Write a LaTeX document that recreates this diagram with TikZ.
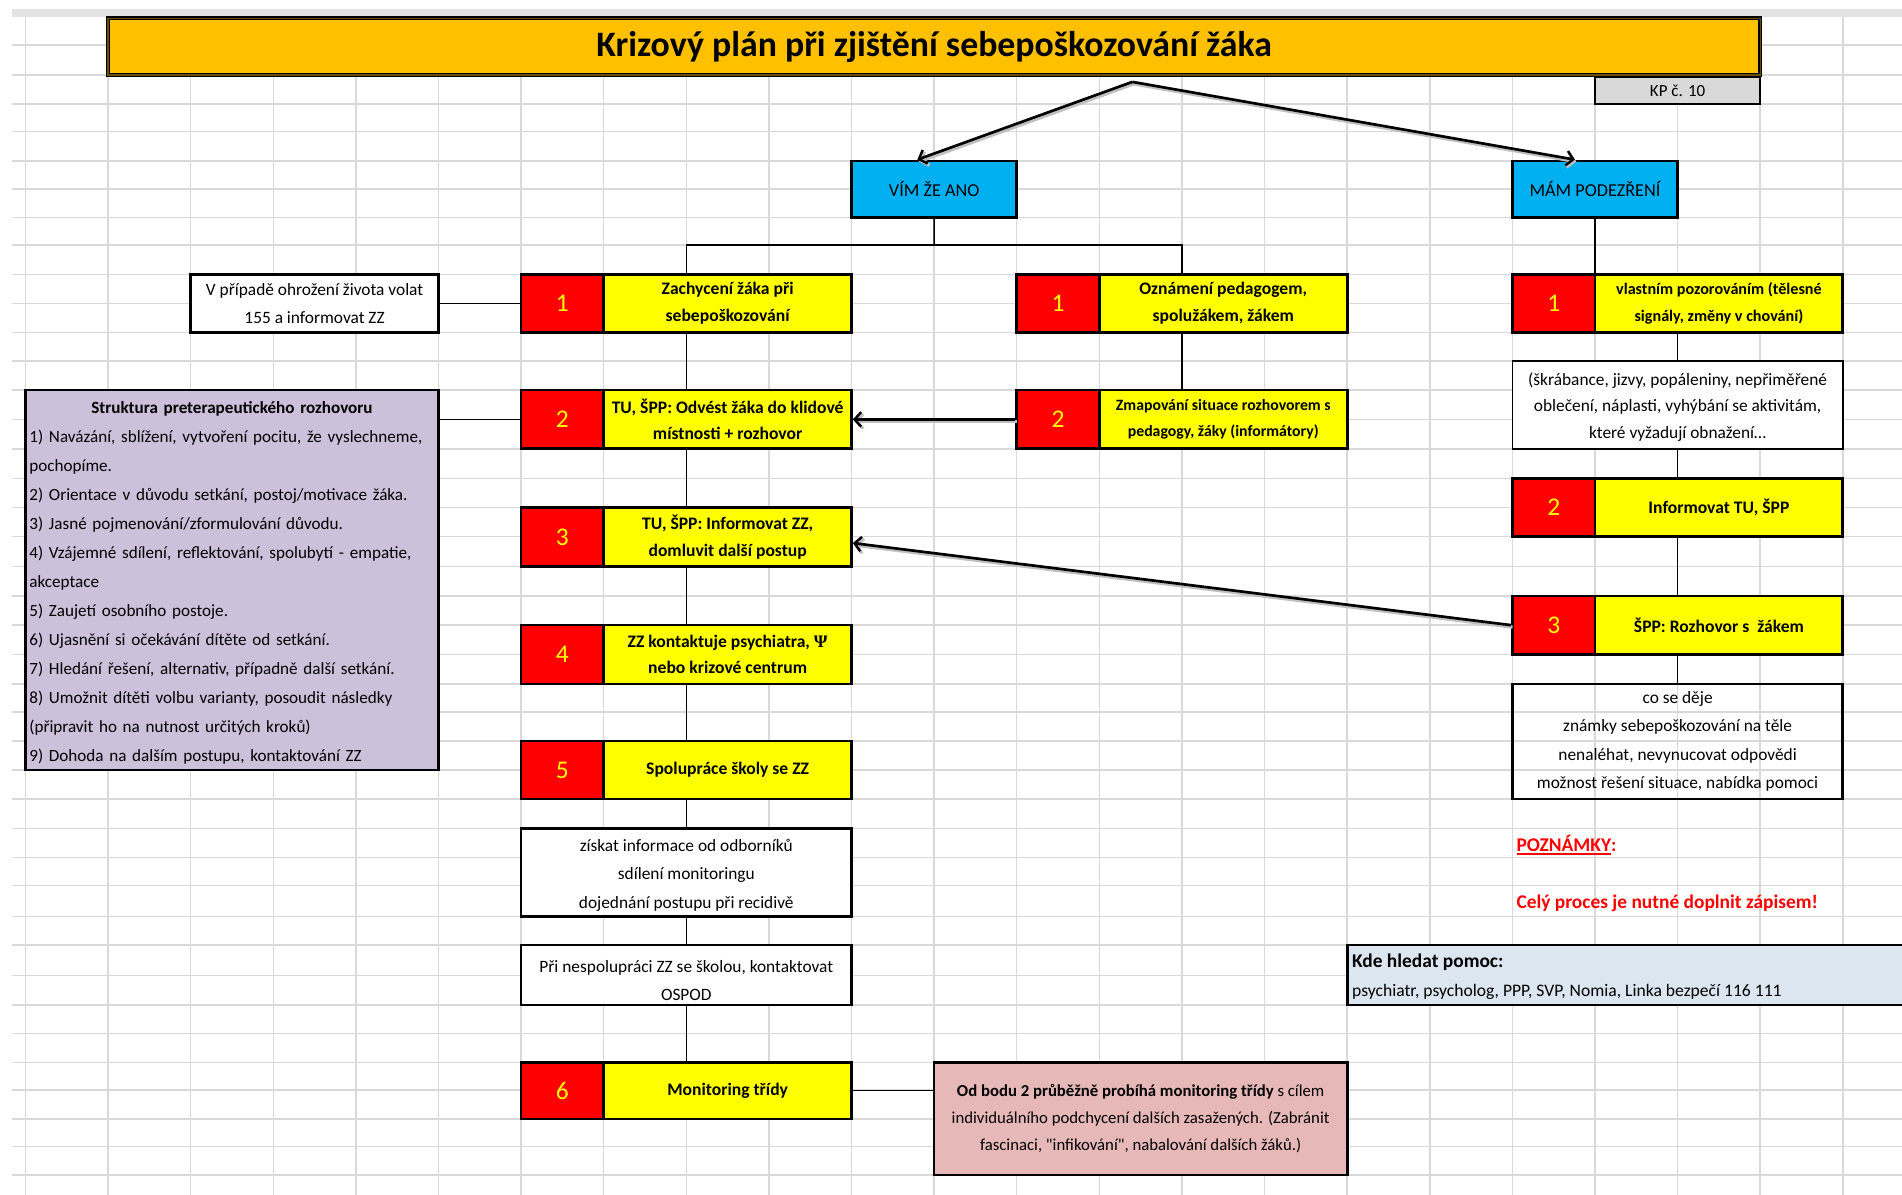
\documentclass[tikz,border=0pt]{standalone}
\usepackage{fontspec}
\setmainfont{Carlito}
\newfontfamily\psifont{Liberation Serif}
\usetikzlibrary{arrows.meta,calc}

\definecolor{xlorange}{HTML}{FFC000}
\definecolor{xlblue}{HTML}{00B0F0}
\definecolor{xlred}{HTML}{FF0000}
\definecolor{xlyellow}{HTML}{FFFF00}
\definecolor{xlpurple}{HTML}{CCC0DA}
\definecolor{xlpink}{HTML}{E6B8B7}
\definecolor{xlpale}{HTML}{DCE6F1}
\definecolor{xlgray}{HTML}{D9D9D9}
\definecolor{gridline}{HTML}{D9D9D9}
\definecolor{headband}{HTML}{E3E3E3}

\newcommand\fs[2]{\fontsize{#1}{#2}\selectfont}
% node spanning the sheet cells from (x1,y1) to (x2,y2)
\newcommand\cellnode[7]{%
  \node[#2, minimum width={(#5)-(#3)}, minimum height={(#6)-(#4)}]
    (#1) at ({((#3)+(#5))/2},{((#4)+(#6))/2}) {#7};}
% red underline under a word
\newcommand\redul[1]{\setbox0\hbox{#1}\rlap{\rule[-2.6pt]{\wd0}{1.3pt}}\box0}

\begin{document}
\begin{tikzpicture}[x=1pt, y=-1pt,
  cellbox/.style={draw=black, line width=2.2pt, inner sep=2pt, align=center},
  titlebar/.style={fill=xlorange, draw=black, line width=1.2pt, double=black!60!xlorange,
    double distance=1pt, font=\bfseries\fs{29.5}{30}},
  kpcell/.style={cellbox, line width=1.4pt, fill=xlgray, font=\fs{14}{16}},
  branch/.style={cellbox, fill=xlblue, font=\fs{15}{18}},
  numcell/.style={cellbox, fill=xlred, text=xlyellow, font=\fs{21}{21}},
  stepcell/.style={cellbox, fill=xlyellow, font=\bfseries\fs{14.5}{22}},
  plaincell/.style={cellbox, fill=white, font=\fs{14.3}{23.5}},
  opencell/.style={cellbox, font=\fs{14.3}{23.5}},
  listcell/.style={cellbox, fill=xlpurple, inner sep=3.25pt, text width=334pt,
    align=left, font=\fs{14.1}{23.9}},
  pinkcell/.style={cellbox, fill=xlpink, font=\fs{13.8}{22.5}},
  helpcell/.style={cellbox, fill=xlpale},
  conn/.style={draw=black, line width=1.1pt},
  bigarrow/.style={draw=black, line width=2.2pt,
    -{Straight Barb[length=5.5pt,width=12pt,line width=2pt]}},
  arrowshadow/.style={draw=black!25, line width=2.8pt,
    -{Straight Barb[length=5.5pt,width=12pt,line width=2.6pt]},
    transform canvas={shift={(1.2pt,-1.6pt)}}},
  notetext/.style={anchor=base west, inner sep=0pt, text=xlred, font=\bfseries\fs{16}{18}},
]
\useasboundingbox (0,0) rectangle (1568,985);
\fill[white] (0,0) rectangle (1568,985);

% spreadsheet background
\fill[headband] (10,7.7) rectangle (1568,13.8);
\foreach \gy in {37.1,61.8,85.7,108.6,132.7,155.8,179.2,202.0,226.1,250.0,
  274.3,297.5,321.5,345.7,370.0,394.3,418.2,442.4,467.2,491.3,515.3,539.4,
  563.9,587.0,610.9,634.8,658.8,682.9,706.8,730.2,755.7,779.1,804.4,828.5,
  851.9,875.8,898.6,922.5,945.3,968.7}
  \draw[gridline, line width=1.2pt] (10,\gy) -- (1568,\gy);
\foreach \gj in {0,...,22}
  \draw[gridline, line width=1.2pt] ({21+68.1*\gj},13.8) -- ({21+68.1*\gj},985);

% header
\cellnode{title}{titlebar}{89.1}{15}{1451.1}{61.8}{Krizový plán při zjištění sebepoškozování žáka}
\cellnode{kp}{kpcell}{1314.9}{63.5}{1451.1}{85.7}{KP č. 10}
\cellnode{vim}{branch}{702}{132.7}{838.2}{179.2}{VÍM ŽE ANO}
\cellnode{mam}{branch}{1246.8}{132.7}{1383}{179.2}{MÁM PODEZŘENÍ}

% row 1
\cellnode{life}{plaincell}{157.2}{226.1}{361.5}{274.3}{V případě ohrožení života volat\\155 a informovat ZZ}
\cellnode{L1n}{numcell}{429.6}{226.1}{497.7}{274.3}{1}
\cellnode{L1}{stepcell}{497.7}{226.1}{702}{274.3}{Zachycení žáka při\\sebepoškozování}
\cellnode{M1n}{numcell}{838.2}{226.1}{906.3}{274.3}{1}
\cellnode{M1}{stepcell}{906.3}{226.1}{1110.6}{274.3}{Oznámení pedagogem,\\spolužákem, žákem}
\cellnode{R1n}{numcell}{1246.8}{226.1}{1314.9}{274.3}{1}
\cellnode{R1}{stepcell, font=\bfseries\fs{13.3}{22}}{1314.9}{226.1}{1519.2}{274.3}{vlastním pozorováním (tělesné\\signály, změny v chování)}

% interview structure
\cellnode{purp}{listcell}{21}{321.5}{361.5}{634.8}{%
\rule{0pt}{15pt}\makebox[\linewidth][c]{\bfseries Struktura preterapeutického rozhovoru}\\
1) Navázání, sblížení, vytvoření pocitu, že vyslechneme,\\
pochopíme.\\
2) Orientace v důvodu setkání, postoj/motivace žáka.\\
3) Jasné pojmenování/zformulování důvodu.\\
4) Vzájemné sdílení, reflektování, spolubytí - empatie,\\
akceptace\\
5) Zaujetí osobního postoje.\\
6) Ujasnění si očekávání dítěte od setkání.\\
7) Hledání řešení, alternativ, případně další setkání.\\
8) Umožnit dítěti volbu varianty, posoudit následky\\
(připravit ho na nutnost určitých kroků)\\
9) Dohoda na dalším postupu, kontaktování ZZ}

% row 2
\cellnode{L2n}{numcell}{429.6}{321.5}{497.7}{370}{2}
\cellnode{L2}{stepcell}{497.7}{321.5}{702}{370}{TU, ŠPP: Odvést žáka do klidové\\místnosti + rozhovor}
\cellnode{M2n}{numcell}{838.2}{321.5}{906.3}{370}{2}
\cellnode{M2}{stepcell, font=\bfseries\fs{13}{22}}{906.3}{321.5}{1110.6}{370}{Zmapování situace rozhovorem s\\pedagogy, žáky (informátory)}
\cellnode{Rw1}{plaincell, line width=1.2pt, font=\fs{14.3}{22}}{1246.8}{297.5}{1519.2}{370}{\rule{0pt}{14pt}(škrábance, jizvy, popáleniny, nepřiměřené\\oblečení, náplasti, vyhýbání se aktivitám,\\které vyžadují obnažení…}

% steps 3 to 6
\cellnode{L3n}{numcell}{429.6}{418.2}{497.7}{467.2}{3}
\cellnode{L3}{stepcell}{497.7}{418.2}{702}{467.2}{TU, ŠPP: Informovat ZZ,\\domluvit další postup}
\cellnode{R2n}{numcell}{1246.8}{394.3}{1314.9}{442.4}{2}
\cellnode{R2}{stepcell}{1314.9}{394.3}{1519.2}{442.4}{Informovat TU, ŠPP}
\cellnode{R3n}{numcell}{1246.8}{491.3}{1314.9}{539.4}{3}
\cellnode{R3}{stepcell}{1314.9}{491.3}{1519.2}{539.4}{ŠPP: Rozhovor s\ \ žákem}
\cellnode{L4n}{numcell}{429.6}{515.3}{497.7}{563.9}{4}
\cellnode{L4}{stepcell}{497.7}{515.3}{702}{563.9}{ZZ kontaktuje psychiatra, {\psifont Ψ}\\nebo krizové centrum}
\cellnode{Rw2}{opencell}{1246.8}{563.9}{1519.2}{658.8}{co se děje\\známky sebepoškozování na těle\\nenaléhat, nevynucovat odpovědi\\možnost řešení situace, nabídka pomoci}
\cellnode{L5n}{numcell}{429.6}{610.9}{497.7}{658.8}{5}
\cellnode{L5}{stepcell}{497.7}{610.9}{702}{658.8}{Spolupráce školy se ZZ}
\cellnode{W1}{plaincell}{429.6}{682.9}{702}{755.7}{\rule{0pt}{14pt}získat informace od odborníků\\sdílení monitoringu\\dojednání postupu při recidivě}
\cellnode{W2}{plaincell}{429.6}{779.1}{702}{828.5}{\rule{0pt}{19pt}Při nespolupráci ZZ se školou, kontaktovat\\OSPOD}
\cellnode{L6n}{numcell}{429.6}{875.8}{497.7}{922.5}{6}
\cellnode{L6}{stepcell}{497.7}{875.8}{702}{922.5}{Monitoring třídy}
\cellnode{pink}{pinkcell}{770.1}{875.8}{1110.6}{968.7}{\textbf{Od bodu 2 průběžně probíhá monitoring třídy} s cílem\\individuálního podchycení dalších zasažených. (Zabránit\\fascinaci, \textquotedbl infikování\textquotedbl, nabalování dalších žáků.)}

% notes and help
\node[notetext] (notesA) at (1250,702) {\redul{POZNÁMKY}:};
\node[notetext] (notesB) at (1250,749) {Celý proces je nutné doplnit zápisem!};
\cellnode{help}{helpcell}{1110.6}{779.1}{1620}{828.5}{}
\node[anchor=base west, inner sep=0pt, font=\bfseries\fs{16}{18}] (helpA) at (1114.5,797.5) {Kde hledat pomoc:};
\node[anchor=base west, inner sep=0pt, font=\fs{14.5}{18}] (helpB) at (1114.5,821.5) {psychiatr, psycholog, PPP, SVP, Nomia, Linka bezpečí 116 111};

% connectors
\coordinate (colL) at (565.8,0);
\coordinate (colM) at (974.4,0);
\coordinate (colR) at (1383,0);
\coordinate (fork) at (770.1,202);
\coordinate (split) at (933.5,67.5);

\draw[conn] (vim.south) -- (fork);
\draw[conn] (L1.north -| colL) |- (fork) -| (M1.north -| colM);
\draw[conn] (M1.south -| colM) -- (M2.north -| colM);
\draw[conn] (life.east) -- (L1n.west);
\draw[conn] (L2n.west -| purp.east) -- (L2n.west);
\draw[conn] (L1.south -| colL) -- (L2.north -| colL);
\draw[conn] (L2.south -| colL) -- (L3.north -| colL);
\draw[conn] (L3.south -| colL) -- (L4.north -| colL);
\draw[conn] (L4.south -| colL) -- (L5.north -| colL);
\draw[conn] (L5.south -| colL) -- (W1.north -| colL);
\draw[conn] (W1.south -| colL) -- (W2.north -| colL);
\draw[conn] (W2.south -| colL) -- (L6.north -| colL);
\draw[conn] (L6.east) -- (L6.east -| pink.west);
\draw[conn] (mam.south) -- (mam.south |- R1.north);
\draw[conn] (R1.south -| colR) -- (Rw1.north -| colR);
\draw[conn] (Rw1.south -| colR) -- (R2.north -| colR);
\draw[conn] (R2.south -| colR) -- (R3.north -| colR);
\draw[conn] (R3.south -| colR) -- (Rw2.north -| colR);

% arrows
\draw[arrowshadow] (split) -- ($(vim.north west)!0.4!(vim.north east)$);
\draw[arrowshadow] (split) -- ($(mam.north west)!0.38!(mam.north east)$);
\draw[arrowshadow] (M2n.west) -- (L2.east);
\draw[arrowshadow] (R3n.west) -- ([yshift=-5pt]L3.east);
\draw[bigarrow] (split) -- ($(vim.north west)!0.4!(vim.north east)$);
\draw[bigarrow] (split) -- ($(mam.north west)!0.38!(mam.north east)$);
\draw[bigarrow] (M2n.west) -- (L2.east);
\draw[bigarrow] (R3n.west) -- ([yshift=-5pt]L3.east);
\end{tikzpicture}
\end{document}
